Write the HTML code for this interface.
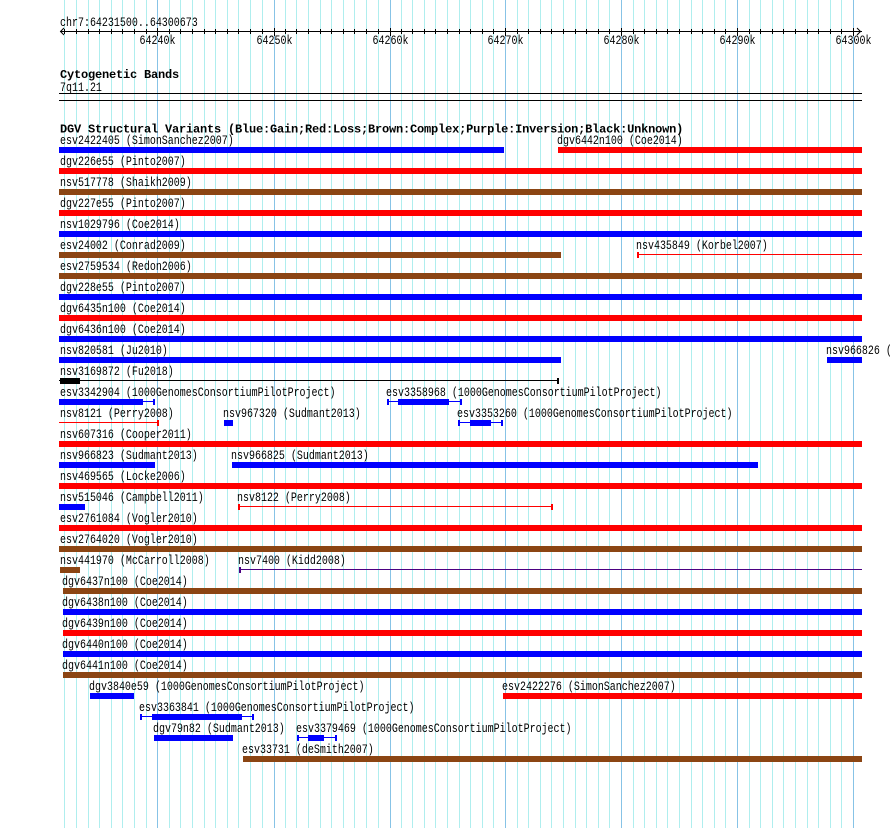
<!DOCTYPE html>
<html><head><meta charset="utf-8"><style>
html,body{margin:0;padding:0;background:#fff;}
svg{display:block;}
text{font-family:"Liberation Mono",monospace;font-size:10px;fill:#000;}
text.b{font-size:12px;font-weight:bold;letter-spacing:-0.2px;}
text.c{text-anchor:middle;}
</style></head><body>
<svg width="890" height="828" viewBox="0 0 890 828" xmlns="http://www.w3.org/2000/svg" shape-rendering="crispEdges">
<rect width="890" height="828" fill="#fff"/>
<g fill="#afeeee">
<rect x="64" y="0" width="1" height="828"/><rect x="76" y="0" width="1" height="828"/><rect x="88" y="0" width="1" height="828"/><rect x="99" y="0" width="1" height="828"/><rect x="111" y="0" width="1" height="828"/><rect x="122" y="0" width="1" height="828"/><rect x="134" y="0" width="1" height="828"/><rect x="146" y="0" width="1" height="828"/>
<rect x="169" y="0" width="1" height="828"/><rect x="180" y="0" width="1" height="828"/><rect x="192" y="0" width="1" height="828"/><rect x="204" y="0" width="1" height="828"/><rect x="215" y="0" width="1" height="828"/><rect x="227" y="0" width="1" height="828"/><rect x="238" y="0" width="1" height="828"/><rect x="250" y="0" width="1" height="828"/><rect x="262" y="0" width="1" height="828"/>
<rect x="285" y="0" width="1" height="828"/><rect x="296" y="0" width="1" height="828"/><rect x="308" y="0" width="1" height="828"/><rect x="320" y="0" width="1" height="828"/><rect x="331" y="0" width="1" height="828"/><rect x="343" y="0" width="1" height="828"/><rect x="354" y="0" width="1" height="828"/><rect x="366" y="0" width="1" height="828"/><rect x="378" y="0" width="1" height="828"/>
<rect x="401" y="0" width="1" height="828"/><rect x="412" y="0" width="1" height="828"/><rect x="424" y="0" width="1" height="828"/><rect x="435" y="0" width="1" height="828"/><rect x="447" y="0" width="1" height="828"/><rect x="459" y="0" width="1" height="828"/><rect x="470" y="0" width="1" height="828"/><rect x="482" y="0" width="1" height="828"/><rect x="493" y="0" width="1" height="828"/>
<rect x="517" y="0" width="1" height="828"/><rect x="528" y="0" width="1" height="828"/><rect x="540" y="0" width="1" height="828"/><rect x="551" y="0" width="1" height="828"/><rect x="563" y="0" width="1" height="828"/><rect x="575" y="0" width="1" height="828"/><rect x="586" y="0" width="1" height="828"/><rect x="598" y="0" width="1" height="828"/><rect x="609" y="0" width="1" height="828"/>
<rect x="633" y="0" width="1" height="828"/><rect x="644" y="0" width="1" height="828"/><rect x="656" y="0" width="1" height="828"/><rect x="667" y="0" width="1" height="828"/><rect x="679" y="0" width="1" height="828"/><rect x="691" y="0" width="1" height="828"/><rect x="702" y="0" width="1" height="828"/><rect x="714" y="0" width="1" height="828"/><rect x="725" y="0" width="1" height="828"/>
<rect x="749" y="0" width="1" height="828"/><rect x="760" y="0" width="1" height="828"/><rect x="772" y="0" width="1" height="828"/><rect x="783" y="0" width="1" height="828"/><rect x="795" y="0" width="1" height="828"/><rect x="807" y="0" width="1" height="828"/><rect x="818" y="0" width="1" height="828"/><rect x="830" y="0" width="1" height="828"/><rect x="841" y="0" width="1" height="828"/>
</g>
<g fill="#87c3e6">
<rect x="157" y="0" width="1" height="828"/><rect x="274" y="0" width="1" height="828"/><rect x="390" y="0" width="1" height="828"/><rect x="505" y="0" width="1" height="828"/><rect x="621" y="0" width="1" height="828"/><rect x="737" y="0" width="1" height="828"/><rect x="853" y="0" width="1" height="828"/>
</g>

<!-- ruler -->
<g fill="#000">
<rect x="60" y="31" width="802" height="1"/>
<rect x="64" y="29" width="1" height="5"/><rect x="76" y="29" width="1" height="5"/><rect x="88" y="29" width="1" height="5"/><rect x="99" y="29" width="1" height="5"/><rect x="111" y="29" width="1" height="5"/><rect x="122" y="29" width="1" height="5"/><rect x="134" y="29" width="1" height="5"/><rect x="146" y="29" width="1" height="5"/>
<rect x="169" y="29" width="1" height="5"/><rect x="180" y="29" width="1" height="5"/><rect x="192" y="29" width="1" height="5"/><rect x="204" y="29" width="1" height="5"/><rect x="215" y="29" width="1" height="5"/><rect x="227" y="29" width="1" height="5"/><rect x="238" y="29" width="1" height="5"/><rect x="250" y="29" width="1" height="5"/><rect x="262" y="29" width="1" height="5"/>
<rect x="285" y="29" width="1" height="5"/><rect x="296" y="29" width="1" height="5"/><rect x="308" y="29" width="1" height="5"/><rect x="320" y="29" width="1" height="5"/><rect x="331" y="29" width="1" height="5"/><rect x="343" y="29" width="1" height="5"/><rect x="354" y="29" width="1" height="5"/><rect x="366" y="29" width="1" height="5"/><rect x="378" y="29" width="1" height="5"/>
<rect x="401" y="29" width="1" height="5"/><rect x="412" y="29" width="1" height="5"/><rect x="424" y="29" width="1" height="5"/><rect x="435" y="29" width="1" height="5"/><rect x="447" y="29" width="1" height="5"/><rect x="459" y="29" width="1" height="5"/><rect x="470" y="29" width="1" height="5"/><rect x="482" y="29" width="1" height="5"/><rect x="493" y="29" width="1" height="5"/>
<rect x="517" y="29" width="1" height="5"/><rect x="528" y="29" width="1" height="5"/><rect x="540" y="29" width="1" height="5"/><rect x="551" y="29" width="1" height="5"/><rect x="563" y="29" width="1" height="5"/><rect x="575" y="29" width="1" height="5"/><rect x="586" y="29" width="1" height="5"/><rect x="598" y="29" width="1" height="5"/><rect x="609" y="29" width="1" height="5"/>
<rect x="633" y="29" width="1" height="5"/><rect x="644" y="29" width="1" height="5"/><rect x="656" y="29" width="1" height="5"/><rect x="667" y="29" width="1" height="5"/><rect x="679" y="29" width="1" height="5"/><rect x="691" y="29" width="1" height="5"/><rect x="702" y="29" width="1" height="5"/><rect x="714" y="29" width="1" height="5"/><rect x="725" y="29" width="1" height="5"/>
<rect x="749" y="29" width="1" height="5"/><rect x="760" y="29" width="1" height="5"/><rect x="772" y="29" width="1" height="5"/><rect x="783" y="29" width="1" height="5"/><rect x="795" y="29" width="1" height="5"/><rect x="807" y="29" width="1" height="5"/><rect x="818" y="29" width="1" height="5"/><rect x="830" y="29" width="1" height="5"/><rect x="841" y="29" width="1" height="5"/>
<rect x="157" y="28" width="1" height="8"/><rect x="274" y="28" width="1" height="8"/><rect x="390" y="28" width="1" height="8"/><rect x="505" y="28" width="1" height="8"/><rect x="621" y="28" width="1" height="8"/><rect x="737" y="28" width="1" height="8"/><rect x="853" y="28" width="1" height="8"/>
</g>
<polyline points="64,28 60.5,31.5 64,35" fill="none" stroke="#000" stroke-width="1" shape-rendering="auto"/>
<polyline points="857,28 860.5,31.5 857,35" fill="none" stroke="#000" stroke-width="1" shape-rendering="auto"/>

<!-- cytobands -->
<text class="b" x="60" y="78">Cytogenetic Bands</text>
<rect x="59" y="93" width="803" height="1" fill="#000"/>
<rect x="59" y="100" width="803" height="1" fill="#000"/>

<!-- DGV -->
<text class="b" x="60" y="132.5">DGV Structural Variants (Blue:Gain;Red:Loss;Brown:Complex;Purple:Inversion;Black:Unknown)</text>

<!-- regular labels, vertically stretched -->
<g transform="scale(1,1.25)">
<text x="60" y="20.8">chr7:64231500..64300673</text>
<text class="c" x="157.5" y="35.2">64240k</text>
<text class="c" x="274.5" y="35.2">64250k</text>
<text class="c" x="390.5" y="35.2">64260k</text>
<text class="c" x="505.5" y="35.2">64270k</text>
<text class="c" x="621.5" y="35.2">64280k</text>
<text class="c" x="737.5" y="35.2">64290k</text>
<text class="c" x="853.5" y="35.2">64300k</text>
<text x="60" y="72.8">7q11.21</text>

<text x="60" y="115.2">esv2422405 (SimonSanchez2007)</text>
<text x="557" y="115.2">dgv6442n100 (Coe2014)</text>
<text x="60" y="132">dgv226e55 (Pinto2007)</text>
<text x="60" y="148.8">nsv517778 (Shaikh2009)</text>
<text x="60" y="165.6">dgv227e55 (Pinto2007)</text>
<text x="60" y="182.4">nsv1029796 (Coe2014)</text>
<text x="60" y="199.2">esv24002 (Conrad2009)</text>
<text x="636" y="199.2">nsv435849 (Korbel2007)</text>
<text x="60" y="216">esv2759534 (Redon2006)</text>
<text x="60" y="232.8">dgv228e55 (Pinto2007)</text>
<text x="60" y="249.6">dgv6435n100 (Coe2014)</text>
<text x="60" y="266.4">dgv6436n100 (Coe2014)</text>
<text x="60" y="283.2">nsv820581 (Ju2010)</text>
<text x="826" y="283.2">nsv966826 (Sudmant2013)</text>
<text x="60" y="300">nsv3169872 (Fu2018)</text>
<text x="60" y="316.8">esv3342904 (1000GenomesConsortiumPilotProject)</text>
<text x="386" y="316.8">esv3358968 (1000GenomesConsortiumPilotProject)</text>
<text x="60" y="333.6">nsv8121 (Perry2008)</text>
<text x="223" y="333.6">nsv967320 (Sudmant2013)</text>
<text x="457" y="333.6">esv3353260 (1000GenomesConsortiumPilotProject)</text>
<text x="60" y="350.4">nsv607316 (Cooper2011)</text>
<text x="60" y="367.2">nsv966823 (Sudmant2013)</text>
<text x="231" y="367.2">nsv966825 (Sudmant2013)</text>
<text x="60" y="384">nsv469565 (Locke2006)</text>
<text x="60" y="400.8">nsv515046 (Campbell2011)</text>
<text x="237" y="400.8">nsv8122 (Perry2008)</text>
<text x="60" y="417.6">esv2761084 (Vogler2010)</text>
<text x="60" y="434.4">esv2764020 (Vogler2010)</text>
<text x="60" y="451.2">nsv441970 (McCarroll2008)</text>
<text x="238" y="451.2">nsv7400 (Kidd2008)</text>
<text x="62" y="468">dgv6437n100 (Coe2014)</text>
<text x="62" y="484.8">dgv6438n100 (Coe2014)</text>
<text x="62" y="501.6">dgv6439n100 (Coe2014)</text>
<text x="62" y="518.4">dgv6440n100 (Coe2014)</text>
<text x="62" y="535.2">dgv6441n100 (Coe2014)</text>
<text x="89" y="552">dgv3840e59 (1000GenomesConsortiumPilotProject)</text>
<text x="502" y="552">esv2422276 (SimonSanchez2007)</text>
<text x="139" y="568.8">esv3363841 (1000GenomesConsortiumPilotProject)</text>
<text x="153" y="585.6">dgv79n82 (Sudmant2013)</text>
<text x="296" y="585.6">esv3379469 (1000GenomesConsortiumPilotProject)</text>
<text x="242" y="602.4">esv33731 (deSmith2007)</text>
</g>

<!-- blue bars -->
<g fill="#0000ff">
<rect x="59" y="147" width="445" height="6"/>
<rect x="59" y="231" width="803" height="6"/>
<rect x="59" y="294" width="803" height="6"/>
<rect x="59" y="336" width="803" height="6"/>
<rect x="59" y="357" width="502" height="6"/>
<rect x="827" y="357" width="35" height="6"/>
<rect x="59" y="399" width="84" height="6"/>
<rect x="143" y="401" width="12" height="1"/>
<rect x="153" y="399" width="2" height="6"/>
<rect x="387" y="399" width="2" height="6"/>
<rect x="387" y="401" width="75" height="1"/>
<rect x="398" y="399" width="51" height="6"/>
<rect x="460" y="399" width="2" height="6"/>
<rect x="224" y="420" width="9" height="6"/>
<rect x="458" y="420" width="2" height="6"/>
<rect x="458" y="422" width="45" height="1"/>
<rect x="470" y="420" width="21" height="6"/>
<rect x="501" y="420" width="2" height="6"/>
<rect x="59" y="462" width="96" height="6"/>
<rect x="232" y="462" width="526" height="6"/>
<rect x="59" y="504" width="26" height="6"/>
<rect x="63" y="609" width="799" height="6"/>
<rect x="63" y="651" width="799" height="6"/>
<rect x="90" y="693" width="44" height="6"/>
<rect x="140" y="714" width="2" height="6"/>
<rect x="140" y="716" width="114" height="1"/>
<rect x="152" y="714" width="90" height="6"/>
<rect x="252" y="714" width="2" height="6"/>
<rect x="154" y="735" width="79" height="6"/>
<rect x="297" y="735" width="2" height="6"/>
<rect x="297" y="737" width="40" height="1"/>
<rect x="308" y="735" width="16" height="6"/>
<rect x="335" y="735" width="2" height="6"/>
</g>

<!-- red bars -->
<g fill="#ff0000">
<rect x="558" y="147" width="304" height="6"/>
<rect x="59" y="168" width="803" height="6"/>
<rect x="59" y="210" width="803" height="6"/>
<rect x="637" y="252" width="2" height="6"/>
<rect x="637" y="254" width="225" height="1"/>
<rect x="59" y="315" width="803" height="6"/>
<rect x="59" y="422" width="100" height="1"/>
<rect x="157" y="420" width="2" height="6"/>
<rect x="59" y="441" width="803" height="6"/>
<rect x="59" y="483" width="803" height="6"/>
<rect x="238" y="504" width="2" height="6"/>
<rect x="238" y="506" width="315" height="1"/>
<rect x="551" y="504" width="2" height="6"/>
<rect x="59" y="525" width="803" height="6"/>
<rect x="63" y="630" width="799" height="6"/>
<rect x="503" y="693" width="359" height="6"/>
</g>

<!-- brown bars -->
<g fill="#8b4513">
<rect x="59" y="189" width="803" height="6"/>
<rect x="59" y="252" width="502" height="6"/>
<rect x="59" y="273" width="803" height="6"/>
<rect x="59" y="546" width="803" height="6"/>
<rect x="60" y="567" width="20" height="6"/>
<rect x="63" y="588" width="799" height="6"/>
<rect x="63" y="672" width="799" height="6"/>
<rect x="243" y="756" width="619" height="6"/>
</g>

<!-- black -->
<g fill="#000">
<rect x="60" y="378" width="20" height="6"/>
<rect x="59" y="380" width="500" height="1"/>
<rect x="557" y="378" width="2" height="6"/>
</g>

<!-- purple -->
<g fill="#4b0082">
<rect x="239" y="567" width="2" height="6"/>
<rect x="239" y="569" width="623" height="1"/>
</g>
</svg>
</body></html>
